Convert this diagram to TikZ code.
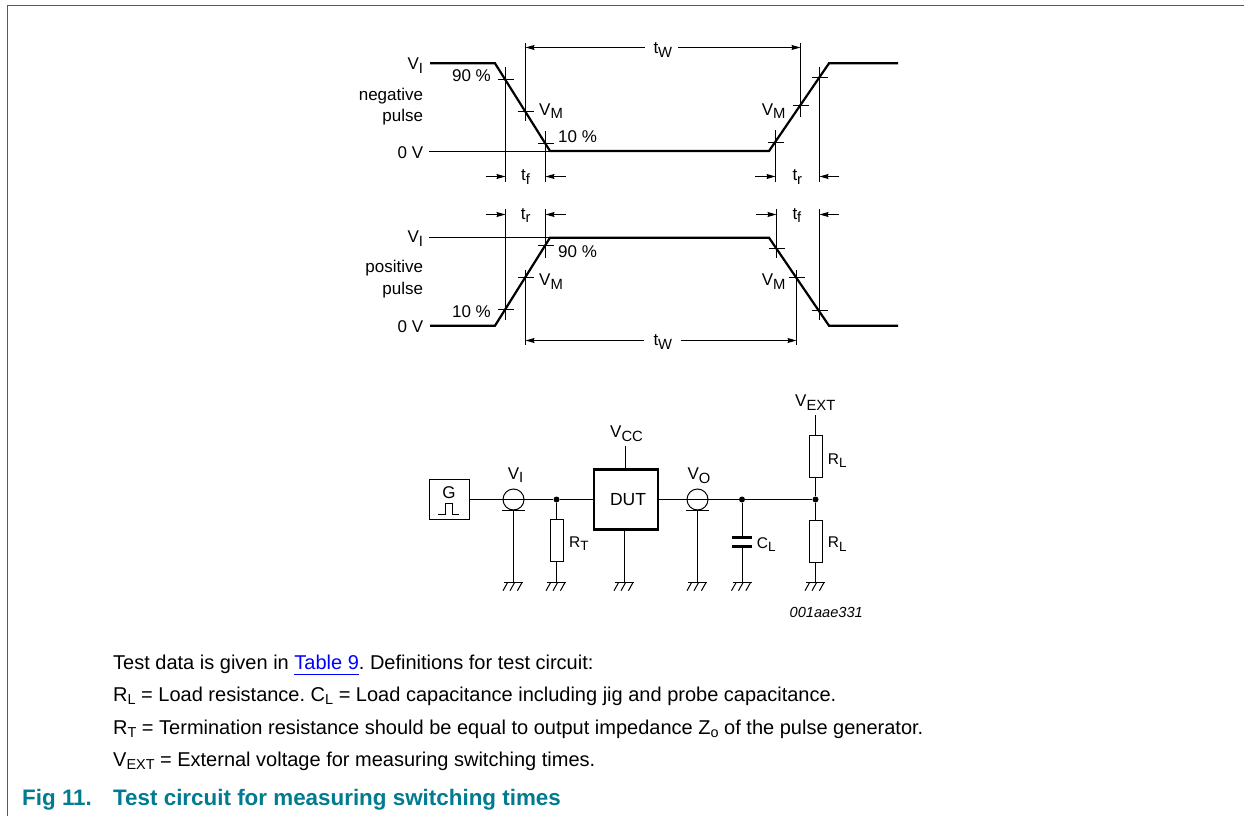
\documentclass[tikz,border=0pt]{standalone}
\usepackage{fontspec}
\setmainfont{Liberation Sans}
\usepackage{xcolor}
\usepackage{graphicx}
\usetikzlibrary{arrows.meta}
\usetikzlibrary{calc}
\usetikzlibrary{positioning}
\definecolor{figteal}{HTML}{007B8F}
\definecolor{linkblue}{HTML}{0000FF}
\frenchspacing
\newcommand{\sbs}[2]{#1\raisebox{-0.22em}{\scalebox{0.87}{#2}}}
\newcommand{\nbs}[2]{#1\raisebox{-0.17em}{\scalebox{0.72}{#2}}}
\tikzset{
  pulse/.style = {line width=2.2pt,line join=miter},
  thin line/.style = {line width=1pt},
  dim/.style = {line width=1pt,-{Stealth[length=9pt,width=5pt,inset=1pt]}},
  lbl/.style = {inner sep=0pt,font=\fontsize{17}{19}\selectfont},
  lblr/.style = {lbl,anchor=base east},
  lbll/.style = {lbl,anchor=base west},
  small/.style = {lbll,font=\fontsize{15.5}{18}\selectfont},
  note/.style = {lbll,font=\fontsize{20}{22}\selectfont},
  head/.style = {lbll,text=figteal,font=\fontsize{22.4}{24}\selectfont\bfseries},
  res/.style = {draw,line width=1pt,minimum width=13pt,minimum height=42pt,inner sep=0pt},
  dot/.style = {circle,fill,inner sep=0pt,minimum size=6pt},
  coax/.style = {circle,draw,line width=1pt,minimum size=21pt,inner sep=0pt},
}
\newcommand{\tick}[1]{\draw[thin line] ($(#1)+(-8,0)$) -- ($(#1)+(8,0)$);}
\newcommand{\earth}[1]{
\draw[thin line] ($(#1)+(-9.5,0)$) -- ($(#1)+(9.5,0)$);
\foreach \dx in {-6,1,8.4} {\draw[thin line] ($(#1)+(\dx,0)$) -- ++(-4.5,8);}
}
\begin{document}
\begin{tikzpicture}[x=1pt,y=-1pt]
\useasboundingbox (0,0) rectangle (1244,816);
\draw[line width=1pt,figteal] (1244,5.5) -- (7.5,5.5) -- (7.5,816);

% negative pulse
\coordinate (na) at (430,63.3);
\coordinate (nb) at (495,63.3);
\coordinate (nc) at (550,151);
\coordinate (nd) at (769,151);
\coordinate (ne) at (829,63.3);
\coordinate (nf) at (898,63.3);
\coordinate (nz) at (429,151);
\draw[pulse] (na) -- (nb) -- (nc) -- (nd) -- (ne) -- (nf);
\draw[thin line] (nz) -- (nc);
\foreach \x/\y in {505.5/79.5,525.5/111.5,545.5/143.5,775.5/142.5,800.5/105.5,819.5/77.5} {\tick{\x,\y}}
\draw[thin line] (505.5,67) -- (505.5,181.7);
\draw[thin line] (525.5,43) -- (525.5,121);
\draw[thin line] (545.5,131) -- (545.5,181.7);
\draw[thin line] (775.5,130) -- (775.5,181.7);
\draw[thin line] (800.5,43) -- (800.5,116.7);
\draw[thin line] (819.5,67) -- (819.5,181.7);

\node[lblr] (nvi) at (423.3,69.3) {\sbs{V}{I}};
\node[lblr] (nneg) at (423.3,100.7) {negative};
\node[lblr] (npul) at (423.3,121.7) {pulse};
\node[lblr] (nov) at (423.3,158) {0 V};
\node[lblr] (n90) at (491,81.7) {90 \%};
\node[lbll] (nvm) at (539,115) {\sbs{V}{M}};
\node[lbll] (n10) at (558,142.3) {10 \%};
\node[lblr] (nvm2) at (785.7,115) {\sbs{V}{M}};
\node[lbll] (ntw) at (653.3,54) {\sbs{t}{W}};
\node[lbll] (ntf) at (521,180.7) {\sbs{t}{f}};
\node[lbll] (ntr) at (792.3,180.7) {\sbs{t}{r}};
\coordinate (nwa) at (645,47.5);
\coordinate (nwb) at (678,47.5);
\draw[dim] (nwa) -- (525.5,47.5);
\draw[dim] (nwb) -- (800.5,47.5);
\draw[dim] (485.7,176.5) -- (505.5,176.5);
\draw[dim] (565.7,176.5) -- (545.5,176.5);
\draw[dim] (755,176.5) -- (775.5,176.5);
\draw[dim] (839,176.5) -- (819.5,176.5);

% positive pulse
\coordinate (pa) at (430,325.7);
\coordinate (pb) at (495,325.7);
\coordinate (pc) at (550,237.7);
\coordinate (pd) at (769,237.7);
\coordinate (pe) at (829,325.7);
\coordinate (pf) at (898,325.7);
\coordinate (pz) at (429,237.7);
\draw[pulse] (pa) -- (pb) -- (pc) -- (pd) -- (pe) -- (pf);
\draw[thin line] (pz) -- (pc);
\foreach \x/\y in {505.5/309.5,525.5/277.5,545.5/245.5,776.5/248.5,796.5/277.5,819.5/310.5} {\tick{\x,\y}}
\draw[thin line] (505.5,209) -- (505.5,320);
\draw[thin line] (525.5,270) -- (525.5,345);
\draw[thin line] (545.5,209) -- (545.5,258);
\draw[thin line] (776.5,209) -- (776.5,258);
\draw[thin line] (796.5,270) -- (796.5,345);
\draw[thin line] (819.5,209) -- (819.5,320);

\node[lblr] (pvi) at (423.3,242.3) {\sbs{V}{I}};
\node[lblr] (ppos) at (423.3,272.3) {positive};
\node[lblr] (ppul) at (423.3,294) {pulse};
\node[lblr] (pov) at (423.3,332.3) {0 V};
\node[lbll] (p90) at (558,257.7) {90 \%};
\node[lblr] (p10) at (491,317.3) {10 \%};
\node[lbll] (pvm) at (539,285.7) {\sbs{V}{M}};
\node[lblr] (pvm2) at (785.7,285.7) {\sbs{V}{M}};
\node[lbll] (ptw) at (653.3,345.7) {\sbs{t}{W}};
\node[lbll] (ptr) at (520.7,219) {\sbs{t}{r}};
\node[lbll] (ptf) at (792.3,219) {\sbs{t}{f}};
\coordinate (pwa) at (644,340.5);
\coordinate (pwb) at (681,340.5);
\draw[dim] (pwa) -- (525.5,340.5);
\draw[dim] (pwb) -- (796.5,340.5);
\draw[dim] (485.7,214.5) -- (505.5,214.5);
\draw[dim] (565.7,214.5) -- (545.5,214.5);
\draw[dim] (756,214.5) -- (776.5,214.5);
\draw[dim] (839,214.5) -- (819.5,214.5);

% test circuit
\node[draw,line width=1pt,minimum width=40pt,minimum height=40pt,inner sep=0pt] (gen) at (449,499.5) {};
\node[lbl,anchor=base] (gtxt) at (449,498) {G};
\draw[thin line] (438,514) -- (445,514) -- (445,503.7) -- (452.7,503.7) -- (452.7,514) -- (459.3,514);
\node[coax] (vi) at (513.5,499.5) {};
\node[dot] (nt) at (556.5,499.5) {};
\node[res] (rt) at (556.5,540.7) {};
\node[draw,line width=2.2pt,minimum width=64pt,minimum height=60pt,inner sep=0pt] (dut) at (626,499.5) {};
\node[lbl,anchor=base,font=\fontsize{17.5}{19}\selectfont] (dutl) at (628,505.7) {DUT};
\node[coax] (vo) at (697.5,499.5) {};
\node[dot] (nc1) at (742,499.5) {};
\node[dot] (nr) at (815.5,499.5) {};
\node[res] (rl1) at (815.5,456.8) {};
\node[res] (rl2) at (815.5,541.8) {};
\coordinate (vcc) at (625.5,446);
\coordinate (vext) at (815.5,415);
\coordinate (cp1) at (742,537.7);
\coordinate (cp2) at (742,546.3);
\coordinate (g1) at (513.5,582.7);
\coordinate (g2) at (556.5,582.7);
\coordinate (g3) at (624.5,582.7);
\coordinate (g4) at (697.5,582.7);
\coordinate (g5) at (742,582.7);
\coordinate (g6) at (815.5,582.7);
\draw[thin line] (gen) -- (vi.center) -- (nt) -- (dut);
\draw[thin line] (dut) -- (vo.center) -- (nc1) -- (nr);
\draw[thin line] (nt) -- (rt) -- (g2);
\draw[thin line] (vcc) -- (vcc |- dut.north);
\draw[thin line] (dut.south -| g3) -- (g3);
\draw[thin line] (vext) -- (rl1) -- (nr) -- (rl2) -- (g6);
\draw[thin line] (nc1) -- (cp1);
\draw[thin line] (cp2) -- (g5);
\draw[line width=3pt] ($(cp1)+(-10,0)$) -- ($(cp1)+(10,0)$);
\draw[line width=3pt] ($(cp2)+(-10,0)$) -- ($(cp2)+(10,0)$);
\draw[thin line] ($(vi)+(-11.7,10.7)$) -- ($(vi)+(11.7,10.7)$);
\draw[thin line] ($(vo)+(-11.7,11)$) -- ($(vo)+(11.7,11)$);
\draw[thin line] ($(vi)+(0,10.7)$) -- (g1);
\draw[thin line] ($(vo)+(0,11)$) -- (g4);
\foreach \g in {g1,g2,g3,g4,g5,g6} {\earth{\g}}

\node[lbll] (lvi) at (507.7,479) {\sbs{V}{I}};
\node[lbll] (lvcc) at (610,437.3) {\sbs{V}{CC}};
\node[lbll] (lvo) at (687.3,479.3) {\sbs{V}{O}};
\node[lbll] (lvext) at (795,406.7) {\sbs{V}{EXT}};
\node[small] (lrt) at (569,547.3) {\sbs{R}{T}};
\node[small] (lrl1) at (827.7,464.3) {\sbs{R}{L}};
\node[small] (lrl2) at (827.7,547.7) {\sbs{R}{L}};
\node[small] (lcl) at (756.7,548.3) {\sbs{C}{L}};
\node[lblr,font=\fontsize{14.6}{16}\selectfont\itshape] (code) at (863,617.3) {001aae331};

% notes
\node[note] (t1) at (113,669.3) {Test data is given in \textcolor{linkblue}{Table 9}. Definitions for test circuit:};
\draw[line width=1pt,linkblue] (294,674) -- (359,674);
\node[note] (t2) at (113,701.5) {\nbs{R}{L} = Load resistance. \nbs{C}{L} = Load capacitance including jig and probe capacitance.};
\node[note] (t3) at (113,734) {\nbs{R}{T} = Termination resistance should be equal to output impedance \nbs{Z}{o} of the pulse generator.};
\node[note] (t4) at (113,766.5) {\nbs{V}{EXT} = External voltage for measuring switching times.};
\node[head] (f1) at (22,805.5) {Fig 11.};
\node[head] (f2) at (113,805.5) {Test circuit for measuring switching times};
\end{tikzpicture}
\end{document}
